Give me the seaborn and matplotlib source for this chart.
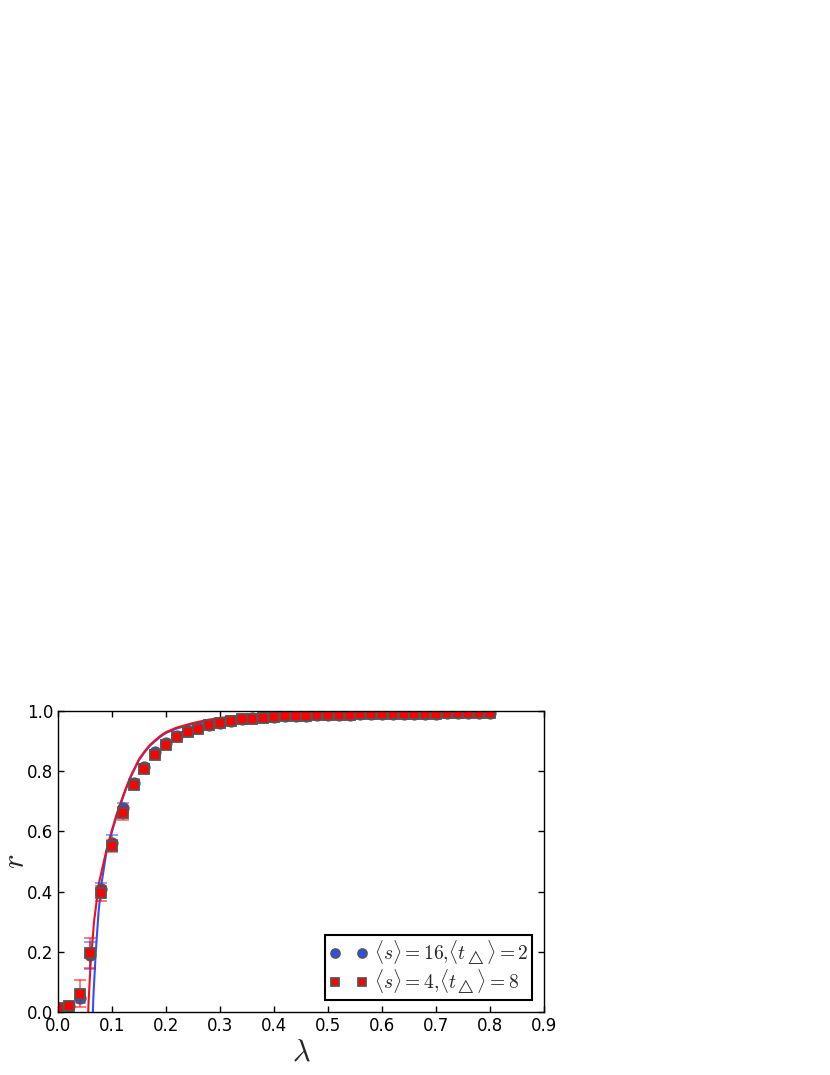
import numpy as np
import matplotlib
matplotlib.use('agg')
import matplotlib.pyplot as plt
import seaborn as sns

# measured points, lambda = 0.00 ... 0.80 in steps of 0.02
lam = np.round(np.arange(0, 41) * 0.02, 2)

r_blue = [0.010, 0.020, 0.045, 0.188, 0.410, 0.562, 0.678, 0.762, 0.815, 0.865,
          0.895, 0.917, 0.933, 0.943, 0.955, 0.961, 0.967, 0.972, 0.976, 0.979,
          0.981, 0.983, 0.984, 0.985, 0.986, 0.987, 0.988, 0.988, 0.989, 0.989,
          0.990, 0.990, 0.990, 0.991, 0.991, 0.991, 0.992, 0.992, 0.992, 0.992,
          0.993]
r_red = [0.012, 0.020, 0.060, 0.195, 0.395, 0.551, 0.660, 0.754, 0.807, 0.855,
         0.888, 0.913, 0.930, 0.941, 0.953, 0.960, 0.966, 0.972, 0.975, 0.978,
         0.980, 0.982, 0.984, 0.985, 0.986, 0.987, 0.988, 0.988, 0.989, 0.989,
         0.990, 0.990, 0.990, 0.991, 0.991, 0.991, 0.992, 0.992, 0.992, 0.992,
         0.993]
err_blue = [0.004, 0.005, 0.015, 0.045, 0.020, 0.025, 0.018, 0.012, 0.008, 0.006,
            0.005, 0.004] + [0.003] * 29
err_red = [0.004, 0.005, 0.045, 0.050, 0.025, 0.020, 0.022, 0.012, 0.008, 0.006,
           0.005, 0.004] + [0.003] * 29

# theory curves
lam_th_blue = [0.0646, 0.0655, 0.0698, 0.075, 0.080, 0.090, 0.100, 0.110, 0.125,
               0.135, 0.150, 0.160, 0.170, 0.180, 0.190, 0.200, 0.220, 0.250,
               0.275, 0.300, 0.350, 0.400, 0.500, 0.600, 0.800]
r_th_blue = [0.0, 0.05, 0.195, 0.33, 0.42, 0.535, 0.600, 0.660, 0.737,
             0.782, 0.837, 0.862, 0.884, 0.900, 0.915, 0.927, 0.942, 0.957,
             0.967, 0.975, 0.985, 0.990, 0.995, 0.997, 0.999]
lam_th_red = [0.0560, 0.0565, 0.058, 0.060, 0.0667, 0.076, 0.090, 0.100, 0.110,
              0.125, 0.135, 0.150, 0.160, 0.170, 0.180, 0.190, 0.200, 0.220,
              0.250, 0.275, 0.300, 0.350, 0.400, 0.500, 0.600, 0.800]
r_th_red = [0.0, 0.03, 0.08, 0.15, 0.30, 0.43, 0.540, 0.605, 0.665,
            0.740, 0.785, 0.840, 0.865, 0.887, 0.903, 0.918, 0.930, 0.945,
            0.960, 0.970, 0.977, 0.986, 0.991, 0.996, 0.998, 0.999]

label_blue = r'$\langle s\rangle=16,\!\langle t_{\triangle}\rangle=2$'
label_red = r'$\langle s\rangle=4,\!\langle t_{\triangle}\rangle=8$'

sns.set_style('ticks', {'xtick.direction': 'in', 'ytick.direction': 'in',
                        'axes.edgecolor': 'black'})
plt.rcParams['font.family'] = ['DejaVu Sans']
plt.rcParams['mathtext.fontset'] = 'cm'

BLUE = '#2d4ef0'
RED = '#ff0000'
EDGE = '#555555'

fig = plt.figure(figsize=(8.3, 10.75), dpi=100)
ax = fig.add_axes([58 / 830, 63 / 1075, 486 / 830, 301 / 1075])

sns.lineplot(x=lam_th_blue, y=r_th_blue, ax=ax, color='#3050ff', lw=1.5,
             estimator=None, sort=False, legend=False)
sns.lineplot(x=lam_th_red, y=r_th_red, ax=ax, color='#ee1020', lw=1.5,
             estimator=None, sort=False, legend=False)

ax.errorbar(lam, r_blue, yerr=err_blue, fmt='none', ecolor=BLUE, alpha=0.6,
            elinewidth=1.2, capsize=4.5, capthick=1.2)
hb, = ax.plot(lam, r_blue, 'o', color=BLUE, ms=7.5, mec=EDGE, mew=1.3,
              label=label_blue)
ax.errorbar(lam, r_red, yerr=err_red, fmt='none', ecolor=RED, alpha=0.6,
            elinewidth=1.2, capsize=4.5, capthick=1.2)
hr, = ax.plot(lam, r_red, 's', color=RED, ms=7.5, mec=EDGE, mew=1.3,
              label=label_red)

ax.set_xlim(0, 0.9)
ax.set_ylim(0, 1.0)
ax.set_xticks(np.arange(0, 10) / 10)
ax.set_xticklabels(['%.1f' % v for v in np.arange(0, 10) / 10])
ax.set_yticks(np.arange(0, 6) / 5)
ax.set_yticklabels(['%.1f' % v for v in np.arange(0, 6) / 5])
ax.tick_params(top=True, right=True, length=4, width=1, labelsize=12,
               colors='black')
for sp in ax.spines.values():
    sp.set_linewidth(1.0)
    sp.set_color('black')

ax.set_xlabel(r'$\lambda$', fontsize=22, labelpad=2)
ax.set_ylabel(r'$r$', fontsize=22)
ax.yaxis.set_label_coords(-0.057, 0.5)

leg = ax.legend(handles=[hb, hr], loc='lower right', numpoints=2,
                fontsize=14, handlelength=2.0, handletextpad=0.3,
                labelspacing=0.05, borderpad=0.2, borderaxespad=0.6,
                fancybox=False, framealpha=1, markerscale=0.85)
leg.get_frame().set_edgecolor('black')
leg.get_frame().set_linewidth(1.5)

fig.savefig('out.png', dpi=100)
